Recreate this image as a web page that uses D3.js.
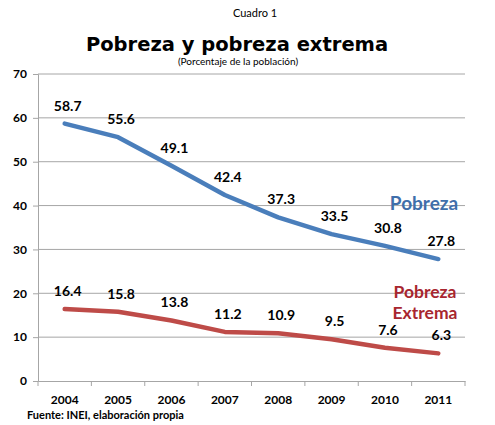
<!DOCTYPE html>
<html><head><meta charset="utf-8">
<script src="https://cdn.jsdelivr.net/npm/d3@7"></script>
<style>body{margin:0;background:#fff}</style>
</head><body>
<svg id="c" width="495" height="425"></svg>
<script>
const years = ["2004","2005","2006","2007","2008","2009","2010","2011"];
const pobreza = [58.7,55.6,49.1,42.4,37.3,33.5,30.8,27.8];
const extrema = [16.4,15.8,13.8,11.2,10.9,9.5,7.6,6.3];
const yTicks = [0,10,20,30,40,50,60,70];

const svg = d3.select("#c");
const x = d3.scaleBand().domain(years).range([38,465]);
const y = d3.scaleLinear().domain([0,70]).range([381,74]);
const lab = "Lato, 'Open Sans', sans-serif";

// title
svg.append("text").attr("x",255).attr("y",17).attr("text-anchor","middle")
  .style("font-family",lab).style("font-size","11px").text("Cuadro 1");
svg.append("text").attr("x",237).attr("y",51).attr("text-anchor","middle")
  .style("font-family","'DejaVu Sans', sans-serif").style("font-weight","bold").style("font-size","19.5px")
  .text("Pobreza y pobreza extrema");
svg.append("text").attr("x",238).attr("y",65).attr("text-anchor","middle")
  .style("font-family",lab).style("font-size","10px").text("(Porcentaje de la población)");

// gridlines
svg.append("g").selectAll("line").data(yTicks.filter(d=>d>0)).join("line")
  .attr("x1",38).attr("x2",465).attr("y1",d=>y(d)).attr("y2",d=>y(d))
  .attr("stroke","#a6a6a6").attr("stroke-width",1);

// y axis
const ya = svg.append("g").attr("transform","translate(38,0)")
  .call(d3.axisLeft(y).tickValues(yTicks).tickSize(5).tickPadding(6));
ya.select(".domain").attr("stroke","#a6a6a6");
ya.selectAll(".tick line").attr("stroke","#a6a6a6");
ya.selectAll("text").style("font-family",lab).style("font-weight","bold").style("font-size","12px").attr("fill","#000");

// x axis
const xa = svg.append("g").attr("transform","translate(0,381)")
  .call(d3.axisBottom(x).tickSize(0).tickPadding(14));
xa.select(".domain").attr("stroke","#a6a6a6");
xa.selectAll("text").style("font-family",lab).style("font-weight","bold").style("font-size","12px").attr("fill","#000");
// tick marks between bands
const edges = years.map(d=>x(d)).concat([x.range()[1]]);
svg.append("g").selectAll("line").data(edges).join("line")
  .attr("x1",d=>d).attr("x2",d=>d).attr("y1",381).attr("y2",386).attr("stroke","#a6a6a6");

const cx = d=>x(d)+x.bandwidth()/2;
const line = d3.line().x((d,i)=>cx(years[i])).y(d=>y(d));

function series(vals,color){
  svg.append("path").datum(vals).attr("d",line).attr("fill","none")
    .attr("stroke",color).attr("stroke-width",4.5).attr("stroke-linecap","round").attr("stroke-linejoin","round");
  svg.append("g").selectAll("text").data(vals).join("text")
    .attr("x",(d,i)=>cx(years[i])+3).attr("y",d=>y(d)-13).attr("text-anchor","middle")
    .style("font-family",lab).style("font-weight","bold").style("font-size","14px").attr("fill","#000")
    .text(d=>d.toFixed(1));
}
series(pobreza,"#4a7ebb");
series(extrema,"#be4b48");

svg.append("text").attr("x",424).attr("y",210).attr("text-anchor","middle")
  .style("font-family",lab).style("font-weight","bold").style("font-size","19px").attr("fill","#3f6fab").text("Pobreza");
svg.append("text").attr("x",425).attr("y",298).attr("text-anchor","middle")
  .style("font-family",lab).style("font-weight","bold").style("font-size","17.5px").attr("fill","#a8262f").text("Pobreza");
svg.append("text").attr("x",425).attr("y",319).attr("text-anchor","middle")
  .style("font-family",lab).style("font-weight","bold").style("font-size","17.5px").attr("fill","#a8262f").text("Extrema");

svg.append("text").attr("x",27).attr("y",419)
  .style("font-family",lab).style("font-weight","bold").style("font-size","11px").attr("fill","#000")
  .text("Fuente: INEI, elaboración propia");
</script>
</body></html>
